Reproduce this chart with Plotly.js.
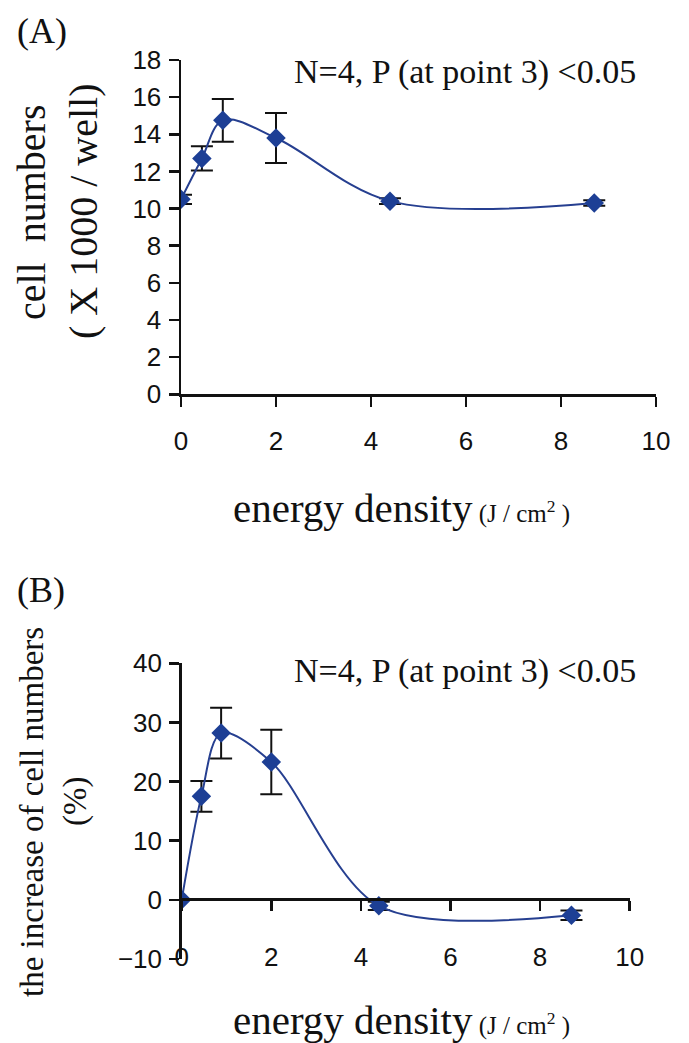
<!DOCTYPE html>
<html>
<head>
<meta charset="utf-8">
<script src="https://cdn.plot.ly/plotly-3.0.1.min.js"></script>
<style>html,body{margin:0;padding:0;background:#fff;}#chart{width:689px;height:1043px;}</style>
</head>
<body>
<div id="chart"></div>
<script>
// ---- data ----
const energy = [0, 0.44, 0.88, 2, 4.4, 8.7];
const cellNumbers = [10.5, 12.7, 14.75, 13.8, 10.4, 10.3];
const cellErr = [0.25, 0.65, 1.15, 1.35, 0.15, 0.15];
const increasePct = [0, 17.5, 28.2, 23.3, -1.0, -2.6];
const increaseErr = [0, 2.6, 4.3, 5.45, 0.7, 0.8];
const xTicks = [0, 2, 4, 6, 8, 10];
const yTicksA = [0, 2, 4, 6, 8, 10, 12, 14, 16, 18];
const yTicksB = [-10, 0, 10, 20, 30, 40];

const W = 689, H = 1043;
const fx = p => p / W;
const fy = p => 1 - p / H;

const lineCol = '#263f90';
const markCol = '#1d3f95';
const serif = 'Liberation Serif, Times New Roman, serif';
const sans = 'Liberation Sans, Arial, sans-serif';

const traceA = {
  x: energy, y: cellNumbers, xaxis: 'x', yaxis: 'y', type: 'scatter', mode: 'lines+markers',
  line: {color: lineCol, width: 2, shape: 'spline', smoothing: 1},
  marker: {symbol: 'diamond', size: 15, color: markCol},
  error_y: {type: 'data', array: cellErr, visible: true, color: '#111', thickness: 2, width: 11}
};
const traceB = {
  x: energy, y: increasePct, xaxis: 'x2', yaxis: 'y2', type: 'scatter', mode: 'lines+markers',
  line: {color: lineCol, width: 2, shape: 'spline', smoothing: 0.9},
  marker: {symbol: 'diamond', size: 15, color: markCol},
  error_y: {type: 'data', array: increaseErr, visible: true, color: '#111', thickness: 2, width: 11}
};

const tickFont = {family: sans, size: 26, color: '#111'};
const axBase = {
  showgrid: false, zeroline: false, showline: true, linecolor: '#111', linewidth: 2.5,
  ticks: 'outside', ticklen: 10, tickwidth: 2.5, tickcolor: '#111', tickfont: tickFont
};

const layout = {
  width: W, height: H, margin: {l: 0, r: 0, t: 0, b: 0},
  paper_bgcolor: '#fff', plot_bgcolor: 'rgba(0,0,0,0)', showlegend: false,
  xaxis: Object.assign({}, axBase, {domain: [fx(181), fx(656)], range: [0, 10], tickvals: xTicks, anchor: 'y', ticklabelstandoff: 12}),
  yaxis: Object.assign({}, axBase, {domain: [fy(394.3), fy(60)], range: [0, 18], tickvals: yTicksA, anchor: 'x', ticklabelstandoff: 2}),
  xaxis2: Object.assign({}, axBase, {domain: [fx(181.7), fx(629.7)], range: [0, 10], tickvals: xTicks, anchor: 'free', position: fy(899), ticklabelstandoff: 24}),
  yaxis2: Object.assign({}, axBase, {domain: [fy(959), fy(663.3)], range: [-10, 40], tickvals: yTicksB, anchor: 'x2', ticklabelstandoff: 2}),
  annotations: [
    {text: '(A)', xref: 'paper', yref: 'paper', x: fx(15), y: fy(31), xanchor: 'left', yanchor: 'middle', showarrow: false, font: {family: serif, size: 36, color: '#111'}},
    {text: '(B)', xref: 'paper', yref: 'paper', x: fx(15), y: fy(590), xanchor: 'left', yanchor: 'middle', showarrow: false, font: {family: serif, size: 36, color: '#111'}},
    {text: 'N=4, P (at point 3) <0.05', xref: 'paper', yref: 'paper', x: fx(638), y: fy(72), xanchor: 'right', yanchor: 'middle', showarrow: false, font: {family: serif, size: 34, color: '#111'}},
    {text: 'N=4, P (at point 3) <0.05', xref: 'paper', yref: 'paper', x: fx(638), y: fy(671), xanchor: 'right', yanchor: 'middle', showarrow: false, font: {family: serif, size: 34, color: '#111'}},
    {text: 'cell\u00a0 numbers', xref: 'paper', yref: 'paper', x: fx(32), y: fy(212), xanchor: 'center', yanchor: 'middle', textangle: -90, showarrow: false, font: {family: serif, size: 40, color: '#111'}},
    {text: '( X 1000 / well)', xref: 'paper', yref: 'paper', x: fx(84), y: fy(211), xanchor: 'center', yanchor: 'middle', textangle: -90, showarrow: false, font: {family: serif, size: 40, color: '#111'}},
    {text: 'the increase of cell numbers', xref: 'paper', yref: 'paper', x: fx(32), y: fy(812), xanchor: 'center', yanchor: 'middle', textangle: -90, showarrow: false, font: {family: serif, size: 33, color: '#111'}},
    {text: '(%)', xref: 'paper', yref: 'paper', x: fx(75), y: fy(802), xanchor: 'center', yanchor: 'middle', textangle: -90, showarrow: false, font: {family: serif, size: 33, color: '#111'}},
    {text: "energy density<span style='font-size:25px'> (J / cm<sup>2</sup> )</span>", xref: 'paper', yref: 'paper', x: fx(401), y: fy(508), xanchor: 'center', yanchor: 'middle', showarrow: false, font: {family: serif, size: 41, color: '#111'}},
    {text: "energy density<span style='font-size:25px'> (J / cm<sup>2</sup> )</span>", xref: 'paper', yref: 'paper', x: fx(401), y: fy(1020), xanchor: 'center', yanchor: 'middle', showarrow: false, font: {family: serif, size: 41, color: '#111'}}
  ]
};

Plotly.newPlot('chart', [traceA, traceB], layout, {staticPlot: true, displayModeBar: false});
</script>
</body>
</html>
